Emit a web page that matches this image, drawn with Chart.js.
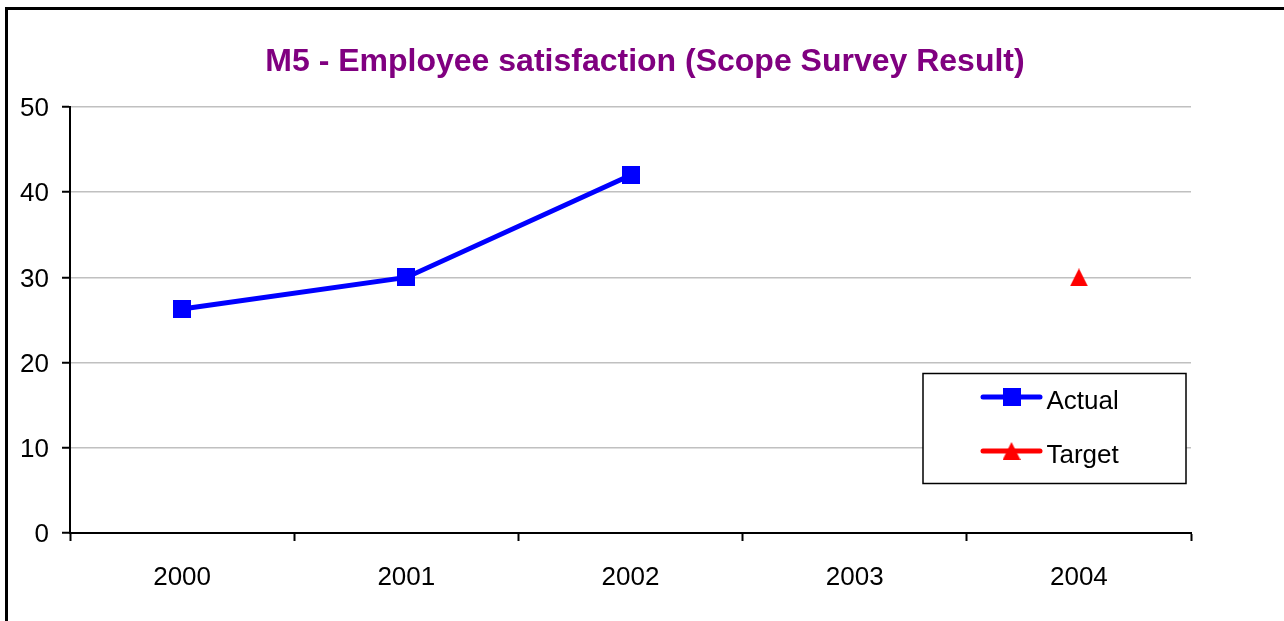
<!DOCTYPE html>
<html>
<head>
<meta charset="utf-8">
<title>M5 - Employee satisfaction</title>
<script src="https://cdn.jsdelivr.net/npm/chart.js@4/dist/chart.umd.min.js"></script>
<style>
  html, body { margin: 0; padding: 0; background: #fff; }
  #wrap { position: relative; width: 1284px; height: 621px; overflow: hidden; }
  #chart { position: absolute; left: 0; top: 0; }
  .edge { position: absolute; background: #000; }
</style>
</head>
<body>
<div id="wrap">
  <canvas id="chart" width="1284" height="621"></canvas>
  <div class="edge" style="left:5px; top:7px; width:3px; height:614px;"></div>
  <div class="edge" style="left:5px; top:7px; width:1279px; height:3px;"></div>
</div>
<script>
// Survey years and scores
const years = ['2000', '2001', '2002', '2003', '2004'];
const actualScores = [26.3, 30, 42, null, null];
const targetScores = [null, null, null, null, 30];
const yTicks = [0, 10, 20, 30, 40, 50];

const FONT = "'Liberation Sans', Arial, sans-serif";

// Marker sprites: an 18px square and an 18px upward triangle
function makeMarker(shape, color) {
  const c = document.createElement('canvas');
  c.width = 18; c.height = 18;
  const g = c.getContext('2d');
  g.fillStyle = color;
  g.beginPath();
  if (shape === 'square') {
    g.rect(0, 0, 18, 18);
  } else {
    g.moveTo(9, 0);
    g.lineTo(18, 18);
    g.lineTo(0, 18);
    g.closePath();
  }
  g.fill();
  return c;
}
const squareBlue = makeMarker('square', '#0000ff');
const triangleRed = makeMarker('triangle', '#ff0000');

// Boxed legend drawn inside the plot area, lower right
const boxLegend = {
  id: 'boxLegend',
  afterDraw(chart, args, opts) {
    const ctx = chart.ctx;
    ctx.save();
    ctx.strokeStyle = '#000';
    ctx.lineWidth = 1.5;
    ctx.fillStyle = '#fff';
    ctx.fillRect(opts.x, opts.y, opts.w, opts.h);
    ctx.strokeRect(opts.x, opts.y, opts.w, opts.h);
    chart.data.datasets.forEach((ds, i) => {
      const y = opts.firstRow + i * opts.rowGap;
      ctx.strokeStyle = ds.borderColor;
      ctx.lineWidth = 5;
      ctx.lineCap = 'round';
      ctx.beginPath();
      ctx.moveTo(opts.lineX0, y);
      ctx.lineTo(opts.lineX1, y);
      ctx.stroke();
      const cx = (opts.lineX0 + opts.lineX1) / 2;
      const m = ds.pointStyle;
      ctx.drawImage(m, cx - m.width / 2, y - m.height / 2);
      ctx.fillStyle = '#000';
      ctx.font = '26px ' + FONT;
      ctx.textBaseline = 'middle';
      ctx.textAlign = 'left';
      ctx.fillText(ds.label, opts.textX, y + 5);
    });
    ctx.restore();
  }
};

new Chart(document.getElementById('chart'), {
  type: 'line',
  data: {
    labels: years,
    datasets: [
      {
        label: 'Actual',
        data: actualScores,
        borderColor: '#0000ff',
        backgroundColor: '#0000ff',
        borderWidth: 5,
        pointStyle: squareBlue,
        pointRadius: 9,
        spanGaps: false,
        tension: 0
      },
      {
        label: 'Target',
        data: targetScores,
        borderColor: '#ff0000',
        backgroundColor: '#ff0000',
        borderWidth: 5,
        pointStyle: triangleRed,
        pointRadius: 9,
        tension: 0
      }
    ]
  },
  options: {
    responsive: false,
    animation: false,
    layout: { padding: { left: 6, right: 0, top: 0, bottom: 0 } },
    plugins: {
      legend: { display: false },
      tooltip: { enabled: false },
      title: {
        display: true,
        text: 'M5 - Employee satisfaction (Scope Survey Result)',
        color: '#800080',
        font: { family: FONT, size: 32, weight: 'bold', lineHeight: 1.2 },
        padding: { top: 42.5, bottom: 26.1 }
      },
      boxLegend: {
        x: 923, y: 373.5, w: 263, h: 110,
        firstRow: 397, rowGap: 54,
        lineX0: 983, lineX1: 1040, textX: 1046.5
      }
    },
    scales: {
      x: {
        type: 'category',
        offset: true,
        grid: {
          display: true,
          offset: true,
          drawOnChartArea: false,
          drawTicks: true,
          tickLength: 8,
          tickWidth: 2,
          tickColor: '#000'
        },
        border: { display: true, color: '#000', width: 2 },
        ticks: {
          color: '#000',
          font: { family: FONT, size: 26 },
          padding: 21,
          maxRotation: 0
        },
        afterFit(scale) { scale.height = 88; }
      },
      y: {
        min: 0,
        max: 50,
        afterBuildTicks(scale) { scale.ticks = yTicks.map(v => ({ value: v })); },
        grid: {
          color: '#c0c0c0',
          lineWidth: 1.5,
          drawTicks: true,
          tickLength: 8,
          tickColor: '#000',
          tickWidth: 2
        },
        border: { display: true, color: '#000', width: 2 },
        ticks: {
          color: '#000',
          font: { family: FONT, size: 26 },
          padding: 13,
          labelOffset: 2
        },
        afterFit(scale) { scale.width = 64; }
      },
      spacer: {
        position: 'right',
        display: true,
        grid: { display: false },
        border: { display: false },
        ticks: { display: false },
        afterFit(scale) { scale.width = 93; }
      }
    }
  },
  plugins: [boxLegend]
});
</script>
</body>
</html>
